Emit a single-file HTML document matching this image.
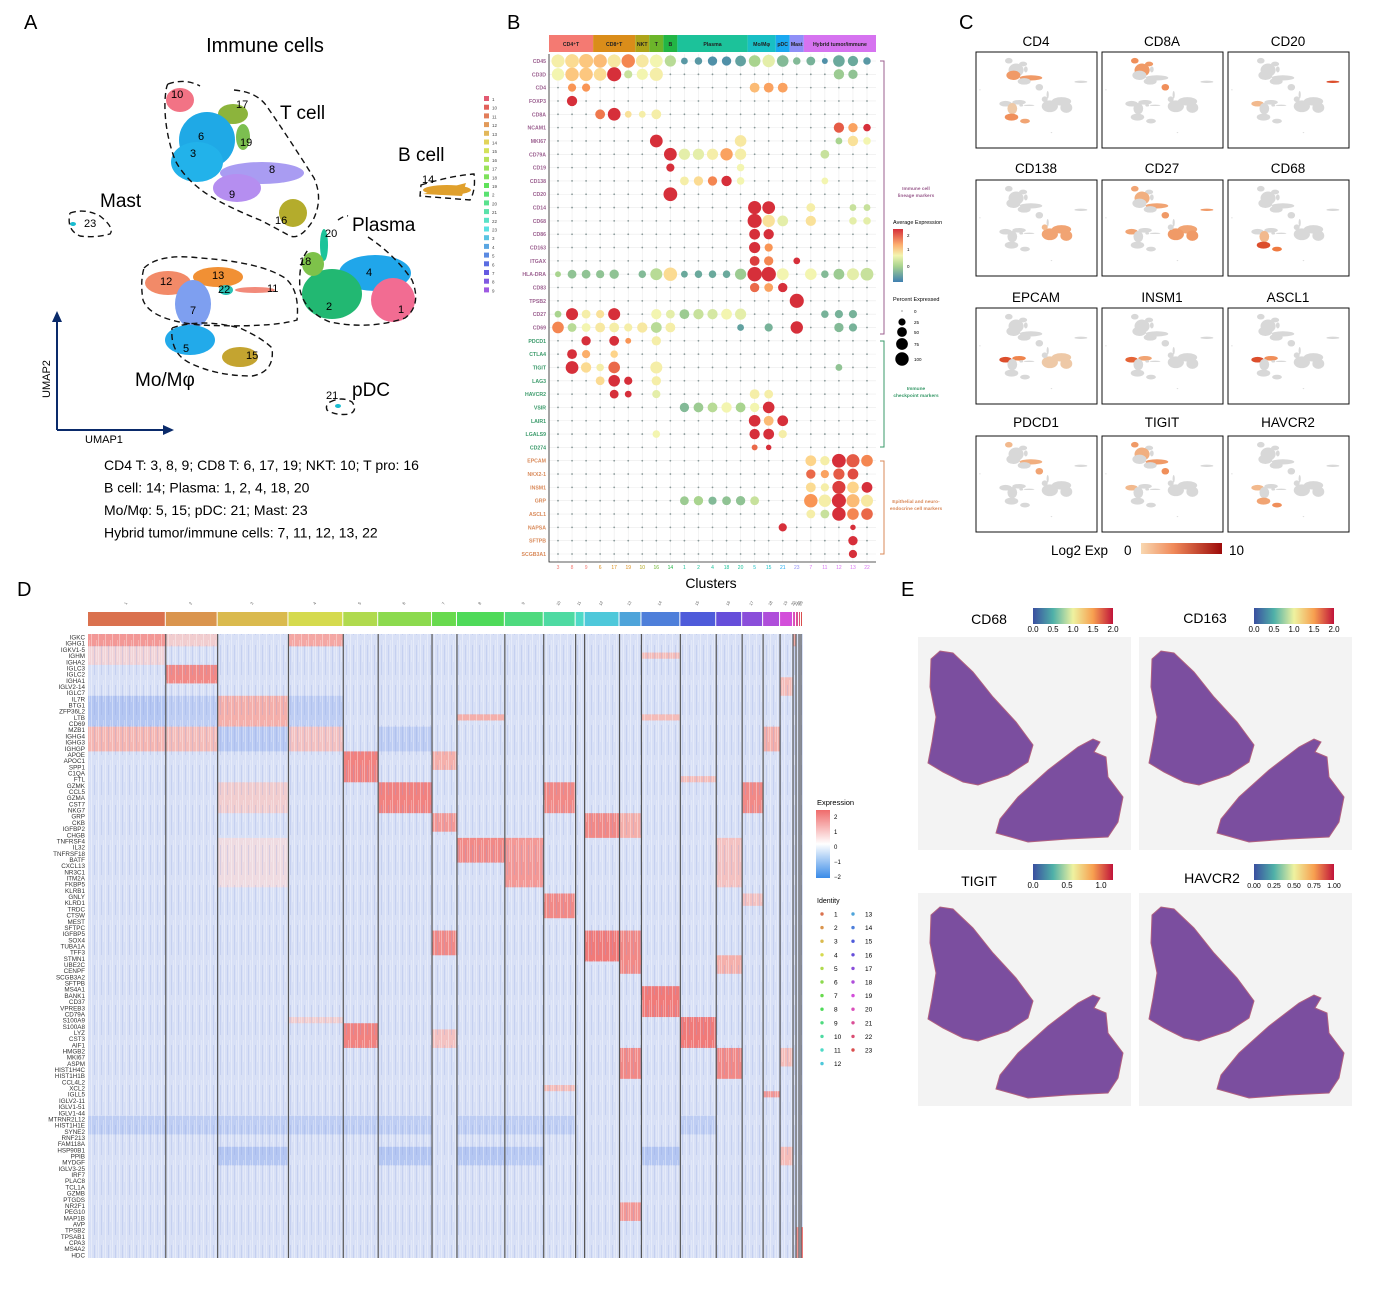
<!DOCTYPE html>
<html><head><meta charset="utf-8"><style>
html,body{margin:0;padding:0;background:#fff;}
svg{display:block;font-family:"Liberation Sans",Arial,sans-serif;}
</style></head><body>
<svg id="fig" width="1393" height="1304" viewBox="0 0 1393 1304" xmlns="http://www.w3.org/2000/svg">
<defs>
<pattern id="stripes" width="7" height="40" patternUnits="userSpaceOnUse">
<rect x="0" y="0" width="1" height="40" fill="#ffffff" opacity="0.35"/>
<rect x="3" y="5" width="1" height="30" fill="#8aa0e0" opacity="0.25"/>
<rect x="5" y="0" width="1" height="22" fill="#ffffff" opacity="0.25"/>
</pattern>
</defs>
<rect width="1393" height="1304" fill="#fff"/>
<g font-size="20" fill="#000">
<text x="24" y="29">A</text>
<text x="507" y="29">B</text>
<text x="959" y="29">C</text>
<text x="17" y="596">D</text>
<text x="901" y="596">E</text>
</g>
<g id="panelA"></g>
<g id="panelB"></g>
<g id="panelC"></g>
<g id="panelD"></g>
<g id="panelE"></g>
</svg>
<script>
const NS="http://www.w3.org/2000/svg";
function mk(tag,attrs,parent,text){const e=document.createElementNS(NS,tag);for(const k in attrs)e.setAttribute(k,attrs[k]);if(text!==undefined)e.textContent=text;parent.appendChild(e);return e;}

/* ================= PANEL A: UMAP ================= */
const umapClusters=["10","17","19","6","3","8","9","16","20","4","2","1","18","12","13","22","11","7","5","15","14","23","21"];
const umapColors=["#f27385","#8cb43c","#7cbf50","#1fa9e6","#22b2ea","#a99cf2","#b58ef0","#b4ac2c","#1cc49a","#20a6ea","#22b872","#f26c92","#7ec24a","#f28a68","#f19034","#28c0b4","#f28a7a","#7e9ff0","#22aaea","#c4a430","#e0a02c","#19bcd0","#19bcd0"];
const umapCx=[180,233,243,207,197,262,237,293,324,375,332,393,313,168,218,226,255,193,190,240,447,73,338];
const umapCy=[100,114,137,140,162,173,188,213,245,273,294,300,264,283,277,290,290,304,340,357,190,224,406];
const umapRx=[14,15,7,28,26,42,24,14,4,36,30,22,11,23,25,7,20,18,25,18,24,3,3];
const umapRy=[12,10,13,28,20,11,14,14,16,18,25,22,12,12,10,5,3,24,15,10,5,2,2];
const A=document.getElementById('panelA');
mk('text',{x:265,y:52,'font-size':20,'text-anchor':'middle',},A,'Immune cells');
function drawUmap(parent,tx,ty,sx,sy,colorFn){
  const g=mk('g',{transform:`translate(${tx},${ty}) scale(${sx},${sy})`},parent);
  umapClusters.forEach((c,i)=>{
    const e=mk('ellipse',{cx:umapCx[i],cy:umapCy[i],rx:umapRx[i],ry:umapRy[i],fill:colorFn(i)},g);
    
    
  });
  return g;
}
drawUmap(A,0,0,1,1,i=>umapColors[i]);
mk('path',{d:'M423 194 L466 183 L462 196 Z',fill:'#e0a02c',},A);
const dash={fill:'none',stroke:'#111','stroke-width':1.4,'stroke-dasharray':'6,4'};
const contours=[
 ['t-cell-contour','M168 84 Q185 78 200 86 M234 90 Q258 92 268 108 Q290 140 314 178 Q324 200 312 222 Q300 240 290 236 Q270 225 260 220 Q230 208 210 196 Q185 180 175 160 Q164 130 165 100 Q166 86 168 84'],
 ['plasma-contour','M338 220 Q345 215 348 216 M368 237 Q395 255 412 280 Q422 305 405 318 Q370 330 330 322 Q305 312 300 290 Q298 262 308 250'],
 ['hybrid-contour','M144 268 Q160 253 200 258 Q260 262 285 278 Q300 290 297 320 Q270 328 200 325 Q150 320 143 300 Q140 282 144 268'],
 ['mo-contour','M172 328 Q200 318 240 328 Q262 338 272 348 Q275 372 252 376 Q215 376 188 362 Q170 352 172 328'],
 ['mast-contour','M70 213 Q85 208 100 216 Q115 228 110 234 Q95 238 80 236 Q66 230 70 213'],
 ['bcell-contour','M421 185 Q450 176 474 174 Q476 190 470 200 Q445 198 420 196 Z'],
 ['pdc-contour','M330 402 Q342 396 352 402 Q358 410 350 414 Q336 416 327 410 Q325 405 330 402']
];
contours.forEach(c=>{const p=mk('path',Object.assign({d:c[1]},dash),A);});
const aLabels=[["T cell",280,119,19],["B cell",398,161,19],["Mast",100,207,19],["Plasma",352,231,19],["Mo/Mφ",135,386,19],["pDC",352,396,19]];
aLabels.forEach(l=>{const t=mk('text',{x:l[1],y:l[2],'font-size':l[3]},A,l[0]);});
const numLabels=[["10",171,98],["17",236,108],["6",198,140],["19",240,146],["3",190,157],["8",269,173],["9",229,198],["16",275,224],["20",325,237],["4",366,276],["18",299,265],["2",326,310],["1",398,313],["12",160,285],["13",212,279],["22",218,293],["11",267,292],["7",190,314],["5",183,352],["15",246,359],["14",422,183],["23",84,227],["21",326,399]];
numLabels.forEach(l=>{const t=mk('text',{x:l[1],y:l[2],'font-size':11},A,l[0]);});
mk('path',{d:'M57 430 L57 320 M57 430 L165 430',stroke:'#0a2a6a','stroke-width':2,fill:'none',},A);
mk('path',{d:'M52 322 L57 311 L62 322 Z M163 425 L174 430 L163 435 Z',fill:'#0a2a6a',},A);
mk('text',{x:85,y:443,'font-size':11,},A,'UMAP1');
mk('text',{x:50,y:398,'font-size':11,transform:'rotate(-90 50 398)',},A,'UMAP2');
const legOrder=["1","10","11","12","13","14","15","16","17","18","19","2","20","21","22","23","3","4","5","6","7","8","9"];
legOrder.forEach((c,i)=>{
  const h=(350+i*280/22)%360;
  const r=mk('rect',{x:484,y:96+i*8.7,width:5,height:5,fill:`hsl(${h},70%,62%)`},A);
  
  const t=mk('text',{x:492,y:101+i*8.7,'font-size':4.5,fill:'#444'},A,c);
  
});
const aText=["CD4 T: 3, 8, 9;  CD8 T: 6, 17, 19;  NKT: 10;  T pro: 16","B cell: 14;      Plasma: 1, 2, 4, 18, 20","Mo/Mφ: 5, 15;     pDC: 21;     Mast: 23","Hybrid tumor/immune cells: 7, 11, 12, 13, 22"];
aText.forEach((s,i)=>{const t=mk('text',{x:104,y:470+i*22.5,'font-size':14,'xml:space':'preserve'},A,s);});

/* ================= PANEL B: dot plot ================= */
const bClusters=["3","8","9","6","17","19","10","16","14","1","2","4","18","20","5","15","21","23","7","11","12","13","22"];
const bGenes=["CD45","CD3D","CD4","FOXP3","CD8A","NCAM1","MKI67","CD79A","CD19","CD138","CD20","CD14","CD68","CD86","CD163","ITGAX","HLA-DRA","CD83","TPSB2","CD27","CD69","PDCD1","CTLA4","TIGIT","LAG3","HAVCR2","VSIR","LAIR1","LGALS9","CD274","EPCAM","NKX2-1","INSM1","GRP","ASCL1","NAPSA","SFTPB","SCGB3A1"];
const dotCD45=[[0,80,0.6],[1,90,0.9],[2,95,1.1],[3,85,1.2],[4,80,0.7],[5,85,1.6],[6,75,0.7],[7,75,0.5],[8,55,0.1],[9,15,-0.7],[10,20,-0.7],[11,35,-0.8],[12,35,-0.8],[13,50,-0.6],[14,60,0],[15,70,0.4],[16,60,-0.3],[17,20,-0.3],[18,30,-0.4],[19,10,-0.8],[20,60,-0.5],[21,45,-0.5],[22,20,-0.7]];
const dotCD3D=[[0,70,0.5],[1,85,1.1],[2,85,1.1],[3,75,0.9],[4,95,2.3],[5,25,0.2],[6,55,0.5],[7,80,0.6],[20,45,-0.1],[21,35,-0.2]];
const dotCD4=[[1,25,1.5],[2,25,1.5],[14,40,1.2],[15,40,1.4],[16,40,1.4]];
const dotFOXP3=[[1,45,2.3]];
const dotCD8A=[[3,40,1.7],[4,75,2.3],[5,15,0.8],[6,15,0.6],[7,40,0.6]];
const dotNCAM1=[[20,45,1.9],[21,35,1.4],[22,20,2.3]];
const dotMKI67=[[7,75,2.3],[13,60,0.7],[20,15,0],[21,45,0.8],[22,20,0.5]];
const dotCD79A=[[8,75,2.3],[9,55,0.4],[10,55,0.4],[11,55,0.6],[12,70,1.4],[13,55,0.6],[19,30,0.2]];
const dotCD19=[[8,25,2.3],[13,20,0.5]];
const dotCD138=[[9,30,0.6],[10,35,0.9],[11,35,1.6],[12,45,2.2],[13,20,0.5],[19,15,0.5]];
const dotCD20=[[8,90,2.3]];
const dotCD14=[[14,80,2.3],[15,75,2.3],[18,30,0.6],[21,15,0.2],[22,15,0.2]];
const dotCD68=[[14,95,2.3],[15,70,0.8],[16,50,0.4],[18,45,0.8],[21,20,0.4],[22,20,0.4]];
const dotCD86=[[14,50,2.3],[15,45,2.2]];
const dotCD163=[[14,55,2.3],[15,25,1.5]];
const dotITGAX=[[14,40,2.1],[15,35,1.6],[17,15,2.3]];
const dotHLADRA=[[0,10,0],[1,30,-0.2],[2,30,-0.2],[3,25,-0.2],[4,35,-0.2],[6,20,-0.3],[7,65,0.1],[8,85,0.9],[9,15,-0.5],[10,20,-0.5],[11,20,-0.5],[12,20,-0.5],[13,55,-0.1],[14,100,2.3],[15,100,2.3],[16,65,0.5],[18,60,0.5],[19,20,-0.3],[20,50,-0.1],[21,65,0.4],[22,75,0.2]];
const dotCD83=[[14,35,1.8],[15,30,1.4],[16,35,2.3]];
const dotTPSB2=[[17,95,2.3]];
const dotCD27=[[0,15,0],[1,65,2.3],[2,30,0.6],[3,25,0.8],[4,65,2.3],[7,45,0.5],[8,30,0.4],[9,40,-0.1],[10,45,0.2],[11,45,0.3],[12,50,0.5],[13,55,0.4],[19,20,-0.4],[20,25,-0.4],[21,25,-0.4]];
const dotCD69=[[0,60,1.6],[1,30,0.1],[2,30,0.5],[3,40,0.7],[4,40,0.6],[5,25,0.6],[6,45,0.7],[7,50,0.1],[8,40,0.6],[13,15,-0.6],[15,25,-0.4],[17,70,2.3],[20,35,-0.3],[21,25,-0.4]];
const dotPDCD1=[[2,35,2.2],[4,40,2.3],[5,10,1.5],[7,35,0.6]];
const dotCTLA4=[[1,40,2.3],[2,25,1.3],[4,20,1]];
const dotTIGIT=[[1,75,2.3],[2,45,0.9],[3,20,0.6],[4,60,1.8],[7,65,0.6],[20,15,-0.2]];
const dotLAG3=[[3,30,0.9],[4,60,2.3],[5,25,2.3],[7,35,0.6]];
const dotHAVCR2=[[4,30,2.3],[5,15,2.3],[7,25,0.4],[14,40,0.6],[15,30,0.6]];
const dotVSIR=[[9,35,-0.3],[10,40,-0.1],[11,40,0.1],[12,45,0.5],[13,40,0],[14,35,0.5],[15,60,2.3]];
const dotLAIR1=[[14,60,2.3],[15,40,1.2],[16,50,2.2]];
const dotLGALS9=[[7,20,0.5],[14,45,2.2],[15,50,2.3],[16,25,0.6]];
const dotCD274=[[14,10,1.8],[15,8,2.3]];
const dotEPCAM=[[18,50,1],[19,35,0.6],[20,90,2.3],[21,80,1.9],[22,60,1.6]];
const dotNKX21=[[18,35,1.8],[19,25,1.4],[20,55,1.9],[21,50,2]];
const dotINSM1=[[18,40,0.9],[19,25,0.6],[20,80,2.1],[21,60,1.0],[22,50,2.3]];
const dotGRP=[[9,30,-0.1],[10,35,0],[11,25,-0.3],[12,30,-0.2],[13,35,-0.2],[14,30,0.2],[18,85,1.5],[19,70,0.6],[20,95,2.3],[21,80,1.2],[22,65,0.7]];
const dotASCL1=[[18,30,0.6],[19,30,0.2],[20,85,2.3],[21,60,1.6],[22,60,1.8]];
const dotNAPSA=[[16,25,2.3],[21,8,2.3]];
const dotSFTPB=[[21,35,2.3]];
const dotSCGB3A1=[[21,25,2.3]];
const dotRows=[dotCD45,dotCD3D,dotCD4,dotFOXP3,dotCD8A,dotNCAM1,dotMKI67,dotCD79A,dotCD19,dotCD138,dotCD20,dotCD14,dotCD68,dotCD86,dotCD163,dotITGAX,dotHLADRA,dotCD83,dotTPSB2,dotCD27,dotCD69,dotPDCD1,dotCTLA4,dotTIGIT,dotLAG3,dotHAVCR2,dotVSIR,dotLAIR1,dotLGALS9,dotCD274,dotEPCAM,dotNKX21,dotINSM1,dotGRP,dotASCL1,dotNAPSA,dotSFTPB,dotSCGB3A1];
const bGroups=["CD4⁺T","CD8⁺T","NKT","T","B","Plasma","Mo/Mφ","pDC","Mast","Hybrid tumor/immune"];
const bGroupStart=[0,3,6,7,8,9,14,16,17,18];
const bGroupEnd=[2,5,6,7,8,13,15,16,17,22];
const bGroupColors=["#f47a72","#da8d1a","#aea41a","#6cb52a","#22b545","#1cc29a","#19bfc4","#1aa8f0","#8f8ff7","#d673f0"];
const B=document.getElementById('panelB');
const bx0=549,bx1=876,by0=54,by1=562;
const xB=i=>558+i*(867-558)/22;
const yB=i=>61+i*(554-61)/37;
function lerp(a,b,t){return a+(b-a)*t;}
function hex(c){return [parseInt(c.slice(1,3),16),parseInt(c.slice(3,5),16),parseInt(c.slice(5,7),16)];}
function ramp(stops,v){if(v<=stops[0][0])return stops[0][1];for(let i=1;i<stops.length;i++){if(v<=stops[i][0]){const t=(v-stops[i-1][0])/(stops[i][0]-stops[i-1][0]);const a=hex(stops[i-1][1]),b=hex(stops[i][1]);return `rgb(${Math.round(lerp(a[0],b[0],t))},${Math.round(lerp(a[1],b[1],t))},${Math.round(lerp(a[2],b[2],t))})`;}}return stops[stops.length-1][1];}
const avgStops=[[-1,"#3f7fb0"],[-0.5,"#6aa99c"],[0,"#a9d48f"],[0.5,"#f3f5b0"],[1,"#fdd48a"],[1.5,"#f99555"],[2.2,"#d62f3a"]];
for(let i=0;i<bClusters.length;i++)mk('line',{x1:xB(i),x2:xB(i),y1:by0,y2:by1,stroke:'#ebebeb','stroke-width':0.6},B);
for(let j=0;j<bGenes.length;j++)mk('line',{x1:bx0,x2:bx1,y1:yB(j),y2:yB(j),stroke:'#ebebeb','stroke-width':0.6},B);
mk('path',{d:`M${bx0} ${by0} L${bx0} ${by1} L${bx1} ${by1}`,fill:'none',stroke:'#222','stroke-width':0.8,},B);
bGroups.forEach((g,k)=>{
  const xa=k===0?bx0:(xB(bGroupStart[k])+xB(bGroupStart[k]-1))/2;
  const xb=k===bGroups.length-1?bx1:(xB(bGroupEnd[k])+xB(bGroupEnd[k]+1))/2;
  const r=mk('rect',{x:xa,y:35,width:xb-xa,height:17,fill:bGroupColors[k]},B);
  
  const t=mk('text',{x:(xa+xb)/2,y:46,'font-size':5.2,'font-weight':'bold','text-anchor':'middle',fill:'#222'},B,g);
  
});
bGenes.forEach((gname,j)=>{
  const col=j<21?'#9b5f8f':(j<30?'#3a9a6a':'#d98a5a');
  const t=mk('text',{x:546,y:yB(j)+2,'font-size':5.2,'font-weight':'bold','text-anchor':'end',fill:col},B,gname);
  
  const map={};dotRows[j].forEach(d=>map[d[0]]=d);
  bClusters.forEach((c,i)=>{
    const d=map[i];
    let dot;
    if(d){
      const r=1+6.2*Math.sqrt(d[1]/100);
      dot=mk('circle',{cx:xB(i),cy:yB(j),r:r.toFixed(2),fill:ramp(avgStops,d[2])},B);
    } else {
      dot=mk('circle',{cx:xB(i),cy:yB(j),r:0.9,fill:'#8a9a9a'},B);
    }
    
    
  });
});
const tickCol=["#f47a72","#f47a72","#f47a72","#da8d1a","#da8d1a","#da8d1a","#aea41a","#6cb52a","#22b545","#1cc29a","#1cc29a","#1cc29a","#1cc29a","#1cc29a","#19bfc4","#19bfc4","#1aa8f0","#8f8ff7","#d673f0","#d673f0","#d673f0","#d673f0","#d673f0"];
bClusters.forEach((c,i)=>{const t=mk('text',{x:xB(i),y:569,'font-size':5,'text-anchor':'middle',fill:tickCol[i]},B,c);});
mk('text',{x:711,y:588,'font-size':14,'text-anchor':'middle',},B,'Clusters');
[['#9b5f8f',61,334],['#3a9a6a',341,447],['#d98a5a',461,554]].forEach(b=>{const p=mk('path',{d:`M880 ${b[1]} L884 ${b[1]} L884 ${b[2]} L880 ${b[2]}`,fill:'none',stroke:b[0],'stroke-width':1},B);});
[["Immune cell",190,'#9b5f8f'],["lineage markers",197,'#9b5f8f'],["Immune",390,'#3a9a6a'],["checkpoint markers",397,'#3a9a6a'],["Epithelial and neuro-",503,'#d98a5a'],["endocrine cell markers",510,'#d98a5a']].forEach(s=>{const t=mk('text',{x:916,y:s[1],'font-size':4.8,'text-anchor':'middle',fill:s[2],'font-weight':'bold'},B,s[0]);});
mk('text',{x:893,y:224,'font-size':5.5,},B,'Average Expression');
const defs=document.querySelector('defs');
const lg=mk('linearGradient',{id:'avgGrad',x1:0,y1:1,x2:0,y2:0},defs);
[["0","#3f7fb0"],["0.3","#a9d48f"],["0.5","#f3f5b0"],["0.7","#fdb070"],["1","#d62f3a"]].forEach(s=>mk('stop',{offset:s[0],'stop-color':s[1]},lg));
mk('rect',{x:893,y:229,width:10,height:53,fill:'url(#avgGrad)',},B);
[["2",237],["1",251],["0",268]].forEach(s=>mk('text',{x:907,y:s[1],'font-size':4.5},B,s[0]));
mk('text',{x:893,y:301,'font-size':5.5,},B,'Percent Expressed');
const pctLegend=[0,25,50,75,100];
pctLegend.forEach((p,i)=>{
  const cy=[311,322,332,344,359][i];
  const c=mk('circle',{cx:902,cy:cy,r:(0.5+6.2*Math.sqrt(p/100)).toFixed(2),fill:'#000'},B);
  
  mk('text',{x:914,y:cy+2,'font-size':4.5},B,String(p));
});

/* ================= PANEL C: feature plots ================= */
const cGenes=["CD4","CD8A","CD20","CD138","CD27","CD68","EPCAM","INSM1","ASCL1","PDCD1","TIGIT","HAVCR2"];
const cHighlights=[{"3":0.45,"8":0.45,"5":0.5,"15":0.4,"7":0.2},{"10":0.5,"6":0.45,"17":0.45,"16":0.5},{"14":0.8,"12":0.3},{"1":0.4,"2":0.4,"4":0.4,"18":0.3},{"10":0.4,"6":0.35,"8":0.4,"1":0.45,"2":0.45,"4":0.4,"14":0.45,"16":0.45,"12":0.4},{"5":0.8,"15":0.6,"7":0.3},{"12":0.8,"13":0.55,"1":0.2,"2":0.2,"4":0.2},{"12":0.7,"13":0.4},{"12":0.8,"13":0.5},{"10":0.3,"8":0.35,"16":0.4},{"10":0.45,"6":0.35,"8":0.45,"16":0.5,"12":0.3},{"5":0.4,"15":0.5,"12":0.3}];
const cColX=[976,1102,1228],cRowY=[52,180,308,436],cTitleY=[46,173,302,427];
const C=document.getElementById('panelC');
function orange(v){return ramp([[0,"#dcdcdc"],[0.25,"#f2c49a"],[0.6,"#ef7a40"],[1,"#c82218"]],v);}
cGenes.forEach((g,k)=>{
  const cx=cColX[k%3],cy=cRowY[Math.floor(k/3)];
  const t=mk('text',{x:cx+60,y:cTitleY[Math.floor(k/3)],'font-size':13.5,'text-anchor':'middle'},C,g);
  
  const box=mk('rect',{x:cx,y:cy,width:121,height:96,fill:'#fff',stroke:'#111','stroke-width':1},C);
  
  const hl=cHighlights[k];
  const sx=0.27,sy=0.235;
  drawUmap(C,cx+22-140*sx,cy+4-80*sy,sx,sy,i=>hl[umapClusters[i]]!==undefined?orange(hl[umapClusters[i]]):'#d8d8d8');
});
mk('text',{x:1051,y:555,'font-size':13.5,},C,'Log2 Exp');
mk('text',{x:1124,y:555,'font-size':13.5},C,'0');
const og=mk('linearGradient',{id:'orGrad',x1:0,y1:0,x2:1,y2:0},defs);
[["0","#f8d7b0"],["0.4","#f08a5a"],["1","#9c0a0a"]].forEach(s=>mk('stop',{offset:s[0],'stop-color':s[1]},og));
mk('rect',{x:1141,y:543,width:81,height:11,fill:'url(#orGrad)',},C);
mk('text',{x:1229,y:555,'font-size':13.5},C,'10');

/* ================= PANEL D: heatmap ================= */
const dClusters=["1","2","3","4","5","6","7","8","9","10","11","12","13","14","15","16","17","18","19","20","21","22","23"];
const dCellCounts=[78,52,71,55,35,54,25,48,39,32,9,35,22,39,36,26,21,17,13,3,3,2,2];
const dGenes=["IGKC","IGHG1","IGKV1-5","IGHM","IGHA2","IGLC3","IGLC2","IGHA1","IGLV2-14","IGLC7","IL7R","BTG1","ZFP36L2","LTB","CD69","MZB1","IGHG4","IGHG3","IGHGP","APOE","APOC1","SPP1","C1QA","FTL","GZMK","CCL5","GZMA","CST7","NKG7","GRP","CKB","IGFBP2","CHGB","TNFRSF4","IL32","TNFRSF18","BATF","CXCL13","NR3C1","ITM2A","FKBP5","KLRB1","GNLY","KLRD1","TRDC","CTSW","MEST","SFTPC","IGFBP5","SOX4","TUBA1A","TFF3","STMN1","UBE2C","CENPF","SCGB3A2","SFTPB","MS4A1","BANK1","CD37","VPREB3","CD79A","S100A9","S100A8","LYZ","CST3","AIF1","HMGB2","MKI67","ASPM","HIST1H4C","HIST1H1B","CCL4L2","XCL2","IGLL5","IGLV2-11","IGLV1-51","IGLV1-44","MTRNR2L12","HIST1H1E","SYNE2","RNF213","FAM118A","HSP90B1","PPIB","MYDGF","IGLV3-25","IRF7","PLAC8","TCL1A","GZMB","PTGDS","NR2F1","PEG10","MAP1B","AVP","TPSB2","TPSAB1","CPA3","MS4A2","HDC"];
const dBlocks=[
[0,"IGKC","IGHG1",1.4],[0,"IGKV1-5","IGHA2",0.5],[0,"IL7R","CD69",-1.0],[0,"MZB1","IGHGP",1.0],[0,"MTRNR2L12","SYNE2",-0.8],
[1,"IGKC","IGHG1",0.6],[1,"IGLC3","IGHA1",1.6],[1,"IL7R","CD69",-0.8],[1,"MZB1","IGHGP",0.9],[1,"MTRNR2L12","SYNE2",-0.8],
[2,"IL7R","CD69",1.1],[2,"GZMK","NKG7",0.6],[2,"MZB1","IGHGP",-0.9],[2,"HSP90B1","MYDGF",-1.0],[2,"TNFRSF4","FKBP5",0.35],[2,"MTRNR2L12","SYNE2",-0.8],
[3,"IGKC","IGHG1",1.2],[3,"IL7R","CD69",-0.8],[3,"MZB1","IGHGP",0.8],[3,"S100A9","S100A9",0.6],[3,"MTRNR2L12","SYNE2",-0.8],
[4,"APOE","FTL",1.7],[4,"S100A8","AIF1",1.7],[4,"MTRNR2L12","SYNE2",-0.8],
[5,"GZMK","NKG7",1.7],[5,"MZB1","IGHGP",-0.8],[5,"HSP90B1","MYDGF",-1.0],[5,"MTRNR2L12","SYNE2",-0.8],
[6,"APOE","SPP1",1.1],[6,"GRP","IGFBP2",1.4],[6,"IGFBP5","TFF3",1.6],[6,"LYZ","AIF1",0.8],
[7,"LTB","LTB",1.1],[7,"TNFRSF4","BATF",1.6],[7,"HSP90B1","MYDGF",-1.0],[7,"MTRNR2L12","SYNE2",-0.8],
[8,"TNFRSF4","FKBP5",1.4],[8,"HSP90B1","MYDGF",-0.9],[8,"MTRNR2L12","SYNE2",-0.8],
[9,"GZMK","NKG7",1.6],[9,"GNLY","CTSW",1.6],[9,"XCL2","XCL2",0.9],[9,"MTRNR2L12","SYNE2",-0.8],
[11,"GRP","CHGB",1.6],[11,"IGFBP5","STMN1",1.8],
[12,"GRP","CHGB",1.1],[12,"IGFBP5","CENPF",1.6],[12,"HMGB2","HIST1H1B",1.6],[12,"NR2F1","MAP1B",1.4],
[13,"IGHM","IGHM",0.9],[13,"LTB","LTB",0.9],[13,"MS4A1","CD79A",1.8],[13,"HSP90B1","MYDGF",-1.0],
[14,"FTL","FTL",0.9],[14,"S100A9","AIF1",1.8],[14,"MTRNR2L12","SYNE2",-0.8],
[15,"TNFRSF4","FKBP5",0.8],[15,"STMN1","CENPF",1.1],[15,"HMGB2","HIST1H1B",1.6],
[16,"GZMK","NKG7",1.6],[16,"GNLY","KLRD1",0.8],
[17,"MZB1","IGHGP",1.1],[17,"IGLL5","IGLL5",1.4],
[18,"IGHA1","IGLC7",0.9],[18,"HMGB2","ASPM",0.9],[18,"HSP90B1","MYDGF",0.9],
[19,"IGKC","IGHG1",1.1],[20,"TPSB2","HDC",1.4],[22,"TPSB2","HDC",1.8]];
const D=document.getElementById('panelD');
const hx0=88,hx1=803,hy0=634,hy1=1258;
const totalCells=dCellCounts.reduce((a,b)=>a+b,0);
const xStart=[];let acc=0;dCellCounts.forEach(c=>{xStart.push(hx0+acc/totalCells*(hx1-hx0));acc+=c;});
const xEnd=i=>hx0+(xStart[i]-hx0)+dCellCounts[i]/totalCells*(hx1-hx0);
const rowH=(hy1-hy0)/dGenes.length;
const yD=name=>hy0+dGenes.indexOf(name)*rowH;
const heatStops=[[-2,"#3a8be8"],[-1,"#b4c6f2"],[-0.3,"#d8e0f6"],[0,"#eceffb"],[1,"#f5b6b2"],[2,"#ef6b6b"]];
mk('rect',{x:hx0,y:hy0,width:hx1-hx0,height:hy1-hy0,fill:ramp(heatStops,-0.3),},D);
dBlocks.forEach(b=>{
  const r=mk('rect',{x:xStart[b[0]],y:yD(b[1]),width:xEnd(b[0])-xStart[b[0]],height:yD(b[2])-yD(b[1])+rowH,fill:ramp(heatStops,b[3])},D);
  
  
});
mk('rect',{x:hx0,y:hy0,width:hx1-hx0,height:hy1-hy0,fill:'url(#stripes)',},D);
dClusters.forEach((c,i)=>{
  const h=(15+i*345/22)%360;
  const r=mk('rect',{x:xStart[i],y:612,width:Math.max(xEnd(i)-xStart[i]-1,0.8),height:14,fill:`hsl(${h},65%,58%)`},D);
  
  const t=mk('text',{x:(xStart[i]+xEnd(i))/2,y:604,'font-size':4,'text-anchor':'middle',fill:'#555',transform:`rotate(-60 ${(xStart[i]+xEnd(i))/2} 604)`},D,c);
  
  if(i>0)mk('line',{x1:xStart[i],x2:xStart[i],y1:hy0,y2:hy1,stroke:'#555','stroke-width':1.2},D);
});
dGenes.forEach((g,j)=>{const t=mk('text',{x:85,y:hy0+j*rowH+rowH*0.9,'font-size':6.3,'text-anchor':'end',fill:'#333'},D,g);});
mk('text',{x:817,y:805,'font-size':7.5,},D,'Expression');
const eg=mk('linearGradient',{id:'expGrad',x1:0,y1:0,x2:0,y2:1},defs);
[["0","#ef6b6b"],["0.5","#ffffff"],["1","#3a8be8"]].forEach(s=>mk('stop',{offset:s[0],'stop-color':s[1]},eg));
mk('rect',{x:816,y:810,width:14,height:68,fill:'url(#expGrad)',},D);
[["2",819],["1",834],["0",849],["−1",864],["−2",879]].forEach(s=>mk('text',{x:834,y:s[1],'font-size':6},D,s[0]));
mk('text',{x:817,y:903,'font-size':7,},D,'Identity');
dClusters.forEach((c,i)=>{
  const col=i<12?0:1,row=i<12?i:i-12;
  const h=(15+i*345/22)%360;
  const dot=mk('circle',{cx:822+col*31,cy:914+row*13.6,r:1.7,fill:`hsl(${h},65%,58%)`},D);
  
  mk('text',{x:834+col*31,y:916.5+row*13.6,'font-size':6.5},D,c);
});

/* ================= PANEL E: spatial ================= */
const eGenes=["CD68","CD163","TIGIT","HAVCR2"];
const eTicks=[["0.0","0.5","1.0","1.5","2.0"],["0.0","0.5","1.0","1.5","2.0"],["0.0","0.5","1.0"],["0.00","0.25","0.50","0.75","1.00"]];
const ePanelX=[918,1139,918,1139],ePanelY=[637,637,893,893];
const eTitleX=[989,1205,979,1212],eTitleY=[624,623,886,883];
const E=document.getElementById('panelE');
const sg=mk('linearGradient',{id:'specGrad',x1:0,y1:0,x2:1,y2:0},defs);
[["0","#3a4fa0"],["0.25","#4fb0a8"],["0.5","#eef2a0"],["0.75","#f7a050"],["1","#c0133a"]].forEach(s=>mk('stop',{offset:s[0],'stop-color':s[1]},sg));
eGenes.forEach((g,k)=>{
  const px=ePanelX[k],py=ePanelY[k];
  mk('rect',{x:px,y:py,width:213,height:213,fill:'#f3f3f3',},E);
  const P=(pts)=>'M'+pts.map(p=>`${px+p[0]} ${py+p[1]}`).join(' L')+' Z';
  const t1=mk('path',{d:P([[13,22],[22,14],[35,16],[55,35],[75,60],[98,85],[115,108],[110,125],[90,138],[60,148],[45,145],[25,135],[10,126],[14,105],[18,80],[12,50]]),fill:'#7b4e9f',stroke:'#b06080','stroke-width':1},E);
  
  const t2=mk('path',{d:P([[78,196],[82,182],[100,160],[130,133],[160,110],[175,102],[182,105],[176,115],[188,120],[190,140],[205,160],[200,185],[190,200],[150,202],[110,205]]),fill:'#7b4e9f',stroke:'#b06080','stroke-width':1},E);
  
  const tt=mk('text',{x:eTitleX[k],y:eTitleY[k],'font-size':14,'text-anchor':'middle'},E,g);
  
  const bx=px+115,by=py-29,bw=80;
  mk('rect',{x:bx,y:by,width:bw,height:16,fill:'url(#specGrad)',},E);
  const ticks=eTicks[k];
  const span=k===2?0.85:1;
  ticks.forEach((s,i)=>mk('text',{x:bx+i/(ticks.length-1)*bw*span,y:by+24,'font-size':k===3?7:8,'text-anchor':'middle'},E,s));
});
</script>
</body></html>
